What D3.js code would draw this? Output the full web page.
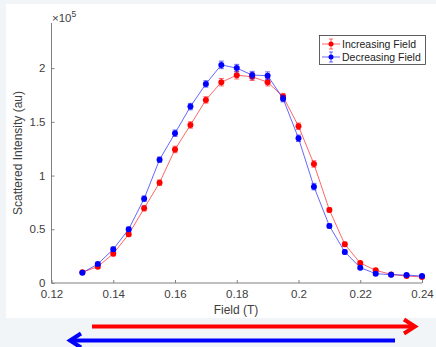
<!DOCTYPE html>
<html>
<head>
<meta charset="utf-8">
<script src="https://cdn.jsdelivr.net/npm/d3@7"></script>
<style>
  html, body { margin: 0; padding: 0; background: #f2f5f8; }
  svg { display: block; font-family: "Liberation Sans", Arial, sans-serif; }
</style>
</head>
<body>
<svg id="chart" width="436" height="347"></svg>
<script>
// field values (T)
const field = [0.13, 0.135, 0.14, 0.145, 0.15, 0.155, 0.16, 0.165, 0.17, 0.175, 0.18, 0.185,
  0.19, 0.195, 0.2, 0.205, 0.21, 0.215, 0.22, 0.225, 0.23, 0.235, 0.24];
// intensity in units of 1e5
const increasing = [0.10, 0.152, 0.273, 0.453, 0.695, 0.934, 1.243, 1.471, 1.704, 1.869, 1.934, 1.92,
  1.869, 1.735, 1.459, 1.108, 0.68, 0.36, 0.186, 0.118, 0.08, 0.065, 0.056];
const decreasing = [0.095, 0.177, 0.314, 0.50, 0.785, 1.148, 1.394, 1.642, 1.853, 2.03, 2.0, 1.935,
  1.93, 1.716, 1.347, 0.897, 0.531, 0.289, 0.143, 0.087, 0.077, 0.074, 0.065];
const incErr = [0.01, 0.015, 0.02, 0.02, 0.025, 0.025, 0.03, 0.03, 0.03, 0.035, 0.035, 0.035,
  0.035, 0.03, 0.03, 0.03, 0.02, 0.02, 0.015, 0.01, 0.01, 0.01, 0.01];
const decErr = [0.01, 0.015, 0.02, 0.02, 0.025, 0.025, 0.03, 0.03, 0.03, 0.035, 0.035, 0.035,
  0.035, 0.03, 0.03, 0.03, 0.02, 0.02, 0.015, 0.01, 0.01, 0.01, 0.01];
const xTicks = [0.12, 0.14, 0.16, 0.18, 0.2, 0.22, 0.24];
const yTicks = [0, 0.5, 1, 1.5, 2];
const seriesNames = ['Increasing Field', 'Decreasing Field'];
const seriesColors = ['#ff0000', '#0000ff'];

const svg = d3.select('#chart');

// white figure panel
svg.append('rect')
  .attr('x', 6).attr('y', 4)
  .attr('width', 430).attr('height', 314)
  .attr('fill', '#ffffff');

const x = d3.scaleLinear().domain([0.12, 0.24]).range([51.5, 422]);
const y = d3.scaleLinear().domain([0, 2.42]).range([283, 23]);

const axisColor = '#808080';
const textColor = '#404040';

// x axis
const gx = svg.append('g')
  .attr('transform', 'translate(0,' + y(0) + ')')
  .call(d3.axisBottom(x).tickValues(xTicks).tickSize(-3).tickPadding(7)
    .tickFormat(d => d3.format('')(+d.toFixed(2))));
gx.select('.domain').attr('stroke', axisColor).attr('d', 'M' + x(0.12) + ',0H' + x(0.24));
gx.selectAll('.tick line').attr('stroke', axisColor);
gx.selectAll('.tick text').attr('fill', textColor).attr('font-size', 11.5);

// y axis
const gy = svg.append('g')
  .attr('transform', 'translate(' + x(0.12) + ',0)')
  .call(d3.axisLeft(y).tickValues(yTicks).tickSize(-3).tickPadding(6)
    .tickFormat(d => d3.format('')(d)));
gy.select('.domain').attr('stroke', axisColor).attr('d', 'M0,' + y(0) + 'V' + y(2.42));
gy.selectAll('.tick line').attr('stroke', axisColor);
gy.selectAll('.tick text').attr('fill', textColor).attr('font-size', 11.5);

// exponent label
const expo = svg.append('text')
  .attr('x', 52).attr('y', 22)
  .attr('fill', textColor).attr('font-size', 11.5);
expo.append('tspan').text('\u00d710');
expo.append('tspan').attr('dy', -5).attr('font-size', 8.5).text('5');

// axis labels
svg.append('text')
  .attr('x', 236).attr('y', 314)
  .attr('text-anchor', 'middle')
  .attr('fill', textColor).attr('font-size', 12)
  .text('Field (T)');
svg.append('text')
  .attr('transform', 'translate(22,' + 153 + ') rotate(-90)')
  .attr('text-anchor', 'middle')
  .attr('fill', textColor).attr('font-size', 12)
  .text('Scattered Intensity (au)');

// series
const series = [
  {name: seriesNames[0], color: seriesColors[0], vals: increasing, err: incErr},
  {name: seriesNames[1], color: seriesColors[1], vals: decreasing, err: decErr}
];

const line = d3.line()
  .x(d => x(d[0]))
  .y(d => y(d[1]));

series.forEach(s => {
  const pts = field.map((f, i) => [f, s.vals[i], s.err[i]]);
  const g = svg.append('g');
  g.append('path')
    .datum(pts)
    .attr('d', line)
    .attr('fill', 'none')
    .attr('stroke', s.color)
    .attr('stroke-opacity', 0.6)
    .attr('stroke-width', 1);
  // error bars
  const eb = g.selectAll('.eb').data(pts).enter().append('g')
    .attr('stroke', s.color).attr('stroke-opacity', 0.6).attr('stroke-width', 1);
  eb.append('line')
    .attr('x1', d => x(d[0])).attr('x2', d => x(d[0]))
    .attr('y1', d => y(d[1] - d[2])).attr('y2', d => y(d[1] + d[2]));
  eb.append('line')
    .attr('x1', d => x(d[0]) - 2.5).attr('x2', d => x(d[0]) + 2.5)
    .attr('y1', d => y(d[1] + d[2])).attr('y2', d => y(d[1] + d[2]));
  eb.append('line')
    .attr('x1', d => x(d[0]) - 2.5).attr('x2', d => x(d[0]) + 2.5)
    .attr('y1', d => y(d[1] - d[2])).attr('y2', d => y(d[1] - d[2]));
  g.selectAll('circle').data(pts).enter().append('circle')
    .attr('cx', d => x(d[0]))
    .attr('cy', d => y(d[1]))
    .attr('r', 3)
    .attr('fill', s.color);
});

// legend
const lg = svg.append('g');
lg.append('rect')
  .attr('x', 319.5).attr('y', 35.5)
  .attr('width', 106).attr('height', 29)
  .attr('fill', '#ffffff').attr('stroke', '#3a3a3a').attr('stroke-width', 0.8);
series.forEach((s, i) => {
  const ly = 44 + i * 13;
  const row = lg.append('g').attr('stroke', s.color);
  row.append('line').attr('x1', 322).attr('x2', 340).attr('y1', ly).attr('y2', ly)
    .attr('stroke-opacity', 0.6);
  row.append('line').attr('x1', 331).attr('x2', 331).attr('y1', ly - 5).attr('y2', ly + 5)
    .attr('stroke-opacity', 0.6);
  row.append('line').attr('x1', 329).attr('x2', 333).attr('y1', ly - 5).attr('y2', ly - 5)
    .attr('stroke-opacity', 0.6);
  row.append('line').attr('x1', 329).attr('x2', 333).attr('y1', ly + 5).attr('y2', ly + 5)
    .attr('stroke-opacity', 0.6);
  lg.append('circle').attr('cx', 331).attr('cy', ly).attr('r', 2.5).attr('fill', s.color);
  lg.append('text')
    .attr('x', 342).attr('y', ly + 4)
    .attr('fill', '#222').attr('font-size', 10.5)
    .text(s.name);
});

// sweep direction arrows
function arrow(x1, x2, yy, color) {
  const dir = x2 > x1 ? 1 : -1;
  const g = svg.append('g').attr('stroke', color).attr('stroke-width', 4).attr('fill', 'none');
  g.append('line').attr('x1', x1).attr('x2', x2 - dir * 1).attr('y1', yy).attr('y2', yy);
  g.append('path')
    .attr('d', 'M' + (x2 - dir * 11) + ',' + (yy - 7) + 'L' + x2 + ',' + yy + 'L' + (x2 - dir * 11) + ',' + (yy + 7))
    .attr('stroke-linejoin', 'miter');
}
arrow(92, 415, 326.5, '#ff0000');
arrow(395, 70, 340.5, '#0000ff');
</script>
</body>
</html>
